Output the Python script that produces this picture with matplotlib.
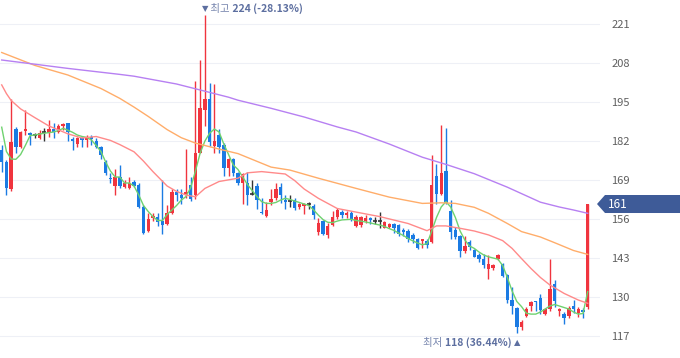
import numpy as np
import matplotlib
matplotlib.use('Agg')
import matplotlib.pyplot as plt
import matplotlib.transforms as mtransforms
from matplotlib.patches import Polygon

plt.rcParams['font.family'] = ['Noto Sans CJK KR', 'DejaVu Sans']

# daily candles (open, high, low, close)
opens = [179.0, 175.1, 165.9, 186.0, 179.9, 185.2, 184.8, 184.0, 182.9, 185.1,
         184.6, 186.0, 185.1, 187.0, 187.9, 182.7, 181.0, 183.0, 182.3, 183.2,
         182.1, 179.9, 175.1, 169.6, 166.9, 170.0, 166.8, 166.4, 168.4, 167.3,
         159.9, 152.1, 156.2, 156.8, 155.2, 154.3, 157.9, 165.1, 164.0, 164.2,
         167.3, 164.0, 178.1, 192.5, 196.1, 180.2, 184.0, 180.7, 173.0, 176.0,
         171.2, 167.9, 168.1, 164.4, 167.1, 158.3, 157.0, 161.7, 162.9, 166.8,
         162.4, 162.0, 162.4, 160.1, 160.3, 161.0, 160.3, 151.7, 155.3, 150.8,
         154.1, 156.8, 158.3, 157.2, 158.1, 153.8, 154.0, 155.4, 156.3, 155.4,
         155.4, 153.1, 153.4, 154.2, 153.9, 152.3, 151.9, 150.6, 149.2, 148.6,
         148.6, 148.4, 170.4, 164.3, 172.1, 158.7, 152.4, 150.2, 145.2, 148.3,
         145.7, 143.9, 142.8, 139.2, 139.6, 142.6, 140.9, 137.3, 129.0, 126.2,
         120.1, 123.8, 127.0, 128.8, 129.7, 124.4, 126.0, 134.4, 125.3, 124.3,
         123.7, 127.0, 124.8, 125.8, 126.6]
highs = [180.7, 175.6, 196.0, 186.8, 185.4, 192.3, 185.1, 184.8, 185.7, 186.2,
         189.0, 187.9, 187.7, 187.9, 187.9, 183.2, 183.2, 183.2, 184.0, 184.0,
         182.9, 180.4, 175.6, 171.2, 172.7, 174.0, 169.0, 170.1, 169.0, 167.9,
         160.6, 157.9, 157.9, 157.9, 169.0, 160.6, 165.9, 165.9, 165.9, 179.4,
         169.9, 202.0, 209.0, 224.0, 201.4, 200.9, 186.1, 181.2, 176.3, 176.3,
         171.8, 171.2, 171.8, 169.0, 167.9, 163.0, 161.8, 166.0, 168.0, 167.9,
         163.9, 163.9, 162.9, 161.4, 161.4, 161.8, 161.0, 156.4, 155.6, 154.7,
         158.6, 159.6, 159.0, 158.7, 158.7, 157.2, 157.0, 157.2, 156.6, 156.6,
         158.4, 155.4, 154.8, 154.8, 154.2, 153.1, 152.6, 151.4, 149.8, 149.4,
         149.4, 177.4, 174.3, 187.3, 186.5, 162.4, 153.2, 150.8, 150.2, 149.1,
         145.9, 144.6, 144.4, 144.0, 141.0, 144.2, 141.2, 137.8, 133.4, 126.8,
         122.3, 126.6, 128.7, 128.8, 131.1, 126.4, 142.8, 135.8, 126.4, 124.9,
         127.0, 129.1, 126.6, 126.4, 161.0]
lows = [171.8, 164.0, 165.5, 178.0, 179.6, 184.1, 180.8, 182.9, 182.6, 182.1,
        183.4, 182.9, 184.8, 185.7, 182.1, 179.0, 179.9, 179.9, 179.9, 180.8,
        179.6, 175.9, 170.7, 168.0, 164.0, 166.5, 166.4, 166.0, 166.8, 159.6,
        150.9, 151.8, 155.4, 153.6, 150.9, 154.0, 157.7, 162.0, 161.1, 163.0,
        162.1, 162.8, 177.9, 187.0, 180.3, 178.1, 178.1, 170.4, 170.4, 170.4,
        167.3, 161.0, 160.6, 164.1, 159.3, 157.7, 156.8, 160.6, 162.3, 161.2,
        159.3, 160.1, 159.0, 159.2, 157.6, 159.3, 156.1, 150.8, 150.8, 149.7,
        153.6, 155.9, 156.4, 156.4, 155.3, 153.3, 153.3, 154.6, 154.4, 154.4,
        152.9, 152.9, 153.1, 151.2, 150.3, 150.3, 148.3, 148.1, 145.9, 146.2,
        146.4, 148.1, 160.9, 164.0, 160.9, 149.3, 149.3, 143.4, 144.6, 145.7,
        143.2, 141.7, 139.6, 135.9, 139.0, 142.3, 136.8, 127.9, 124.3, 118.0,
        119.0, 123.2, 125.3, 125.3, 124.4, 123.9, 125.4, 126.8, 123.7, 120.9,
        123.1, 124.8, 123.2, 123.1, 126.0]
closes = [175.0, 166.2, 181.8, 179.9, 184.9, 186.0, 184.0, 184.0, 184.6, 185.1,
          185.9, 184.9, 187.0, 187.7, 185.1, 182.1, 182.9, 182.3, 183.4, 182.6,
          180.1, 177.4, 171.2, 169.2, 169.9, 167.0, 168.1, 168.1, 167.1, 160.1,
          151.2, 155.9, 157.0, 155.1, 154.0, 157.9, 165.1, 164.0, 162.9, 165.1,
          162.6, 177.9, 192.9, 196.1, 181.6, 182.0, 180.0, 173.0, 176.0, 171.2,
          167.9, 170.9, 164.0, 164.4, 162.3, 157.9, 159.0, 162.6, 165.9, 164.0,
          161.8, 162.0, 159.6, 161.0, 161.0, 161.0, 157.3, 154.7, 151.1, 153.6,
          156.6, 159.0, 157.2, 158.1, 155.7, 156.6, 156.6, 156.3, 155.7, 155.4,
          155.4, 155.0, 154.2, 153.1, 150.9, 151.7, 149.2, 149.2, 146.4, 149.2,
          147.4, 167.3, 164.3, 171.3, 161.3, 151.8, 149.9, 145.2, 147.1, 146.8,
          143.4, 142.8, 140.6, 140.9, 140.8, 143.9, 137.0, 129.0, 127.0, 120.1,
          121.8, 126.0, 128.3, 128.3, 125.7, 126.0, 132.7, 128.8, 126.1, 123.1,
          126.4, 125.9, 125.9, 125.1, 161.0]

# moving averages
ma5 = [186.6, 178.5, 176.0, 175.9, 177.5, 180.5, 183.8, 184.0, 184.3, 184.6,
       184.8, 185.0, 185.5, 186.2, 185.6, 184.9, 184.0, 183.5, 183.2, 182.3,
       180.5, 178.5, 175.0, 172.0, 170.0, 170.0, 168.0, 168.0, 167.0, 164.0,
       160.5, 158.5, 156.8, 155.5, 155.5, 157.5, 159.0, 160.5, 162.3, 163.5,
       166.5, 172.0, 178.0, 182.0, 184.6, 186.0, 185.0, 181.0, 177.5, 174.0,
       172.5, 170.0, 167.5, 165.5, 163.5, 161.8, 161.2, 161.2, 161.5, 162.3,
       162.9, 162.5, 162.0, 161.5, 161.0, 160.5, 159.0, 157.3, 155.8, 154.9,
       154.8, 155.3, 155.7, 155.8, 155.9, 155.5, 155.3, 155.0, 154.7, 154.3,
       154.0, 153.5, 152.8, 152.2, 151.3, 150.5, 149.5, 148.7, 148.0, 147.4,
       147.8, 152.0, 156.5, 160.0, 161.8, 160.0, 156.5, 152.0, 149.0, 147.0,
       146.2, 145.0, 144.0, 143.4, 143.0, 142.6, 140.5, 136.5, 132.0, 128.5,
       126.8, 124.6, 124.3, 124.3, 125.0, 126.0, 127.0, 127.5, 127.0, 126.5,
       126.0, 125.0, 124.3, 124.5, 131.8]
ma20_idx = [0, 1, 2, 4, 7, 10, 14, 17, 20, 23, 25, 28, 30, 32, 35, 37, 39, 41, 43, 46,
            50, 52, 55, 60, 62, 64, 67, 71, 75, 80, 86, 90, 92, 94, 97, 100, 103, 106,
            108, 110, 112, 114, 116, 119, 122, 124]
ma20 = [200.7, 197.8, 195.5, 192.7, 189.8, 187.0, 184.4, 183.0, 183.5, 182.2, 180.8,
        178.4, 175.3, 171.8, 167.0, 165.2, 164.0, 163.4, 166.2, 168.5, 169.6, 171.4,
        171.8, 171.0, 168.8, 166.0, 162.9, 159.5, 158.3, 156.8, 154.5, 152.1, 153.7,
        153.7, 152.9, 152.0, 150.7, 148.8, 146.2, 142.8, 139.5, 136.5, 134.0, 131.2,
        129.0, 127.9]
ma60_idx = [0, 7, 14, 21, 25, 28, 31, 35, 38, 41, 46, 50, 57, 61, 67, 75, 82, 89, 93,
            96, 100, 103, 107, 110, 114, 117, 121, 124]
ma60 = [211.5, 207.2, 204.0, 199.5, 196.2, 193.3, 190.2, 185.8, 183.1, 181.3, 179.3,
        177.8, 173.3, 172.3, 169.6, 166.2, 163.3, 161.2, 161.4, 161.2, 159.9, 157.9,
        154.5, 151.8, 150.0, 148.1, 145.5, 144.2]
ma120_idx = [0, 7, 14, 25, 28, 37, 42, 48, 50, 57, 64, 71, 75, 82, 89, 94, 100, 107,
             114, 118, 121, 124]
ma120 = [209.0, 207.6, 206.2, 204.2, 203.6, 201.0, 199.0, 196.6, 195.6, 192.9, 190.0,
         186.7, 185.0, 181.0, 176.6, 174.2, 171.1, 166.6, 161.6, 160.0, 159.0, 157.9]

yticks = [117, 130, 143, 156, 169, 182, 195, 208, 221]
high_idx, high_val, high_pct = 43, 224, '-28.13%'
low_idx, low_val, low_pct = 109, 118, '36.44%'
last_price = 161

RED = '#f0343e'
BLUE = '#1b7be3'
DOJI = '#333333'
NOTE = '#5d6fa0'

fig = plt.figure(figsize=(6.8, 3.58), dpi=100)
ax = fig.add_axes([0, 0, 600 / 680, 1])

o = np.array(opens)
h = np.array(highs)
l = np.array(lows)
c = np.array(closes)
x = np.arange(len(o))
up = c > o
dn = c < o
eq = ~(up | dn)
col = np.where(up, RED, np.where(dn, BLUE, DOJI))

ax.vlines(x, l, h, colors=col, lw=1, zorder=2)
ax.bar(x[~eq], (c - o)[~eq], bottom=o[~eq], width=0.72, color=col[~eq], zorder=2)
ax.hlines(c[eq], x[eq] - 0.4, x[eq] + 0.4, colors=DOJI, lw=1.2, zorder=2)

ax.plot(x, ma5, color='#6fd26f', lw=1, zorder=3)
ax.plot(ma20_idx, ma20, color='#ff8a8a', lw=1, zorder=3)
ax.plot(ma60_idx, ma60, color='#ffad6a', lw=1, zorder=3)
ax.plot(ma120_idx, ma120, color='#b780f2', lw=1, zorder=3)

for s in ax.spines.values():
    s.set_visible(False)
ax.yaxis.tick_right()
ax.set_yticks(yticks)
ax.set_xticks([])
ax.tick_params(axis='y', length=0, pad=8, labelsize=8, labelcolor='#5f5f5f')
ax.grid(axis='y', color='#eef0f6', lw=0.8)
ax.set_axisbelow(True)

# last price tag
trans = mtransforms.blended_transform_factory(fig.transFigure, ax.transData)
tag = Polygon([(597 / 680, last_price), (605 / 680, last_price + 3), (1, last_price + 3),
               (1, last_price - 3), (605 / 680, last_price - 3)],
              closed=True, transform=trans, facecolor='#3e5b98', edgecolor='none',
              clip_on=False, zorder=5)
fig.patches.append(tag)
fig.text(608 / 680, last_price, str(last_price), transform=trans, color='white',
         fontsize=8.5, va='center', ha='left', zorder=6)

# high / low notes
t1 = ax.annotate('▼', xy=(high_idx, 226), ha='center', va='center', color=NOTE,
                 fontsize=6, family='DejaVu Sans', annotation_clip=False)
t2 = ax.annotate(' 최고', xy=(1, 0.5), xycoords=t1, ha='left', va='center',
                 color='#7584ad', fontsize=7.5)
ax.annotate(' %d (%s)' % (high_val, high_pct), xy=(1, 0.5), xycoords=t2, ha='left',
            va='center', color=NOTE, fontsize=7.5, fontweight='bold')

b1 = ax.annotate('▲', xy=(low_idx, 114.7), ha='center', va='center', color=NOTE,
                 fontsize=6, family='DejaVu Sans', annotation_clip=False)
b2 = ax.annotate('%d (%s) ' % (low_val, low_pct), xy=(0, 0.5), xycoords=b1, ha='right',
                 va='center', color=NOTE, fontsize=7.5, fontweight='bold')
ax.annotate('최저 ', xy=(0, 0.5), xycoords=b2, ha='right', va='center',
            color='#7584ad', fontsize=7.5)

ax.set_xlim(-0.36, 126.6)
ax.set_ylim(109.67, 229.0)

plt.savefig('out.png', dpi=100)
